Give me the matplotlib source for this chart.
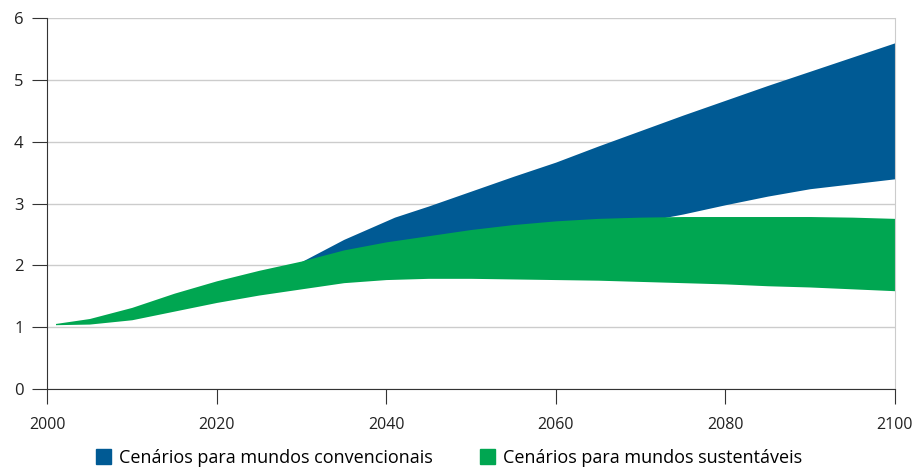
import matplotlib.pyplot as plt
from matplotlib.patches import Patch

plt.rcParams['font.family'] = ['Open Sans', 'DejaVu Sans']

# Sustainable-world scenarios (green band)
years = [2001, 2005, 2010, 2015, 2020, 2025, 2030, 2035, 2040, 2045, 2050,
         2055, 2060, 2065, 2070, 2075, 2080, 2085, 2090, 2095, 2100]
green_hi = [1.06, 1.14, 1.32, 1.55, 1.75, 1.92, 2.07, 2.25, 2.38, 2.48, 2.58,
            2.66, 2.72, 2.76, 2.78, 2.79, 2.79, 2.79, 2.79, 2.78, 2.76]
green_lo = [1.04, 1.05, 1.12, 1.26, 1.40, 1.52, 1.62, 1.72, 1.77, 1.79, 1.79,
            1.78, 1.77, 1.76, 1.74, 1.72, 1.70, 1.67, 1.65, 1.62, 1.59]

# Conventional-world scenarios (blue band), partly hidden behind green
blue_years = [2028, 2030, 2035, 2040, 2041, 2045, 2050, 2055, 2060, 2065,
              2070, 2075, 2080, 2085, 2090, 2095, 2100]
blue_hi = [1.98, 2.06, 2.42, 2.72, 2.78, 2.96, 3.20, 3.44, 3.67, 3.93,
           4.18, 4.43, 4.67, 4.91, 5.14, 5.37, 5.60]
blue_lo = [1.90, 1.95, 2.00, 2.10, 2.12, 2.20, 2.30, 2.40, 2.50, 2.60,
           2.70, 2.83, 2.98, 3.12, 3.24, 3.32, 3.40]

labels = ['Cenários para mundos convencionais', 'Cenários para mundos sustentáveis']
blue = '#005a94'
green = '#00a651'

fig = plt.figure(figsize=(9.13, 4.76), dpi=100)
ax = fig.add_axes([0.0515, 0.1828, 0.9285, 0.7792])

ax.fill_between(blue_years, blue_lo, blue_hi, color=blue, lw=0)
ax.fill_between(years, green_lo, green_hi, color=green, lw=0)

ax.set_xlim(2000, 2100)
ax.set_ylim(0, 6)
ax.set_xticks(range(2000, 2101, 20))
ax.set_yticks(range(0, 7))
ax.yaxis.grid(True, color='#cccccc', lw=1)
ax.set_axisbelow(True)

ax.spines['top'].set_visible(False)
ax.spines['right'].set_color('#cccccc')
ax.spines['left'].set_color('#333333')
ax.spines['bottom'].set_color('#333333')
ax.tick_params(axis='y', length=11, color='#333333', labelsize=12,
               labelcolor='#222222', pad=6)
ax.tick_params(axis='x', length=11, color='#333333', labelsize=11.5,
               labelcolor='#222222', pad=9)

handles = [Patch(color=blue), Patch(color=green)]
fig.legend(handles, labels, loc='lower center', bbox_to_anchor=(0.492, -0.015),
           ncol=2, frameon=False, fontsize=13, handlelength=0.85,
           handleheight=0.85, handletextpad=0.45, columnspacing=2.6)

fig.savefig('out.png', dpi=100)
